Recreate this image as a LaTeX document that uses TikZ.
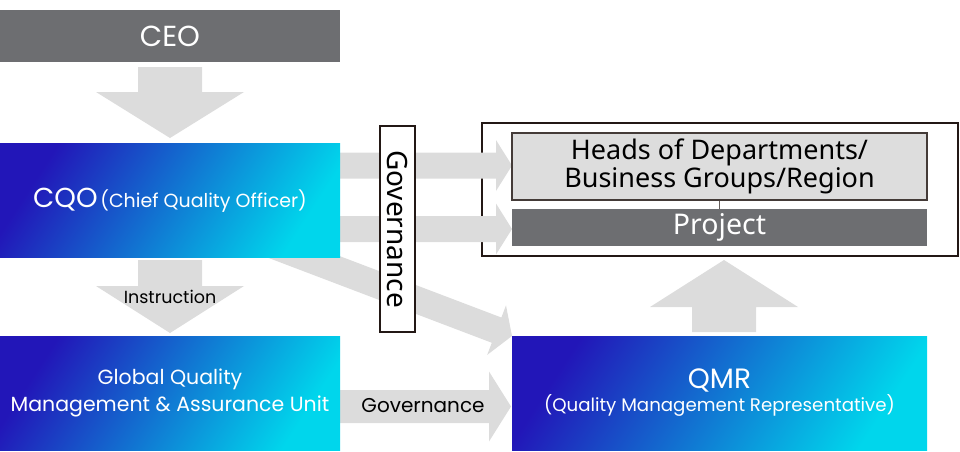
\documentclass[tikz,border=0pt]{standalone}
\usepackage{fontspec}
\setmainfont{Poppins}
\newfontfamily\kfont{Noto Sans}
\usetikzlibrary{calc}
\definecolor{ceogray}{RGB}{109,110,113}
\definecolor{arrowgray}{RGB}{220,220,220}
\definecolor{blueA}{RGB}{34,22,184}
\definecolor{blueB}{RGB}{0,214,236}
\definecolor{lightbox}{RGB}{221,221,221}
\definecolor{edge}{RGB}{35,24,21}
\newcommand\fatarrow[5]{%
  \coordinate (fa-c) at ($(#2)!#5!(#1)$);
  \fill[arrowgray] ($(#1)!#3!90:(#2)$) -- ($(fa-c)!#3!-90:(#1)$) -- ($(fa-c)!#4!-90:(#1)$) -- (#2) -- ($(fa-c)!#4!90:(#1)$) -- ($(fa-c)!#3!90:(#1)$) -- ($(#1)!#3!-90:(#2)$) -- cycle;
}
\tikzset{
  box/.style={rectangle, inner sep=0pt, align=center},
  graybox/.style={box, fill=ceogray, text=white},
  bluebox/.style={box, left color=blueA, right color=blueB, shading angle=57, text=white},
}
\begin{document}
\begin{tikzpicture}[x=1pt,y=-1pt]
\useasboundingbox (0,0) rectangle (960,451);
\node[graybox, minimum width=340pt, minimum height=52pt, font=\fontsize{29}{30}\selectfont] (ceo) at (170,36) {CEO};
% arrow endpoints
\coordinate (a1s) at (170,67);  \coordinate (a1t) at (170,138);
\coordinate (a2s) at (170,260); \coordinate (a2t) at (170,333);
\coordinate (a3s) at (724,332); \coordinate (a3t) at (724,260);
\coordinate (h1s) at (330,165.5); \coordinate (h1t) at (512,165.5);
\coordinate (h2s) at (330,229); \coordinate (h2t) at (512,229);
\coordinate (g1s) at (330,406.5); \coordinate (g1t) at (511,406.5);
\coordinate (ds) at (262,241); \coordinate (dt) at (512,336);
% outer frame
\node[box, draw=edge, line width=1.4pt, minimum width=476pt, minimum height=133pt] (frame) at (720,189.5) {};
% arrows
\fatarrow{a1s}{a1t}{32pt}{74pt}{46pt}
\fatarrow{a2s}{a2t}{32pt}{74pt}{47pt}
\fatarrow{a3s}{a3t}{32pt}{74pt}{47pt}
\fatarrow{h1s}{h1t}{13pt}{25.5pt}{16pt}
\fatarrow{h2s}{h2t}{13pt}{25.5pt}{16pt}
\fatarrow{g1s}{g1t}{16.5pt}{35pt}{22pt}
\fatarrow{ds}{dt}{13.5pt}{26.5pt}{16.5pt}
% blue boxes
\node[bluebox, minimum width=340pt, minimum height=114pt] (cqo) at (170,200) {{\fontsize{27.5}{30}\selectfont CQO} {\fontsize{19}{22}\selectfont(Chief Quality Officer)}};
\node[bluebox, minimum width=340pt, minimum height=114pt, font=\fontsize{20.5}{27}\selectfont] (gqm) at (170,393) {Global Quality\\Management \& Assurance Unit};
\node[bluebox, minimum width=415pt, minimum height=114pt] (qmr) at (719.5,393) {};
\node[box, text=white, font=\fontsize{28}{30}\selectfont] (qmrt) at (719.5,380) {QMR};
\node[box, text=white, font=\fontsize{18.2}{20}\selectfont] (qmrs) at (719.5,405.5) {(Quality Management Representative)};
% labels on arrows
\node[box, font=\fontsize{17.5}{18}\selectfont] (instr) at (170,297) {Instruction};
\node[box, font=\fontsize{20}{22}\selectfont] (gov2) at (423,406) {Governance};
% vertical governance
\node[box, draw=edge, fill=white, line width=1.2pt, rotate=-90, minimum width=206pt, minimum height=35pt, font=\kfont\fontsize{28}{30}\selectfont] (gov1) at (397.5,229) {Governance};
% heads and project
\node[box, draw=edge!85, fill=lightbox, line width=1.2pt, minimum width=415pt, minimum height=67pt, font=\kfont\fontsize{27}{25}\selectfont] (heads) at (719.5,166.5) {Heads of Departments/\\Business Groups/Region};
\node[graybox, minimum width=415pt, minimum height=37pt, font=\kfont\fontsize{28.5}{29}\selectfont] (proj) at (719.5,227.5) {Project};
\draw[edge!70, line width=0.6pt] (heads.south) -- (proj.north);
\end{tikzpicture}
\end{document}
